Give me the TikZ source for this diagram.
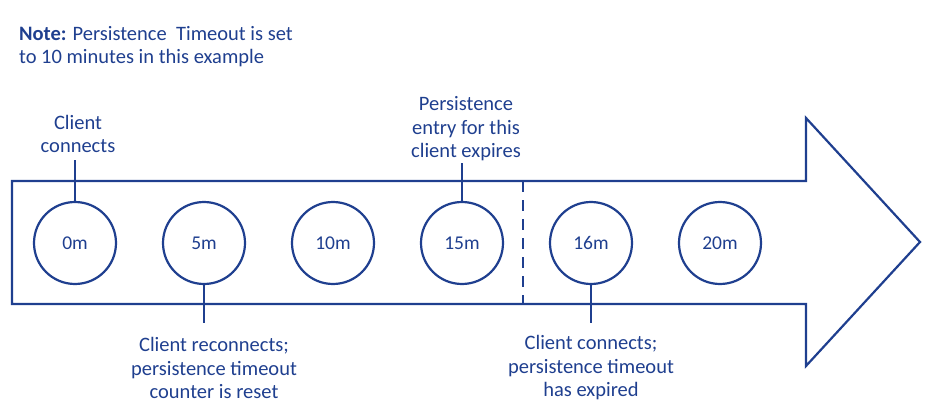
\documentclass[tikz,border=0pt]{standalone}
\usepackage{fontspec}
\setmainfont{Carlito}
\definecolor{db}{HTML}{1F3F8F}
\begin{document}
\begin{tikzpicture}[x=1pt,y=-1pt,line width=2.2pt,
  tick/.style={circle,draw=db,minimum size=82pt,inner sep=0pt,font=\fontsize{19.5}{22}\selectfont,text=db},
  lab/.style={align=center,text=db,font=\fontsize{20.5}{23.5}\selectfont,inner sep=0pt}]
\useasboundingbox (0,0) rectangle (934,409);
\draw[db,line join=miter] (12,181) -- (806,181) -- (806,118) -- (920,242) -- (806,366) -- (806,304) -- (12,304) -- cycle;
\draw[db,dashed,dash pattern=on 11pt off 8pt] (523,181) -- (523,304);
\foreach \n/\x/\t in {a/75/0m,b/204/5m,c/333/10m,d/462/15m,e/591/16m,f/720/20m}
  \node[tick] (\n) at (\x,243) {\t};
\node[lab] (la) at (78,134) {Client\\connects};
\node[lab] (ld) at (466,129) {Persistence\\entry for this\\client expires};
\node[lab] (lb) at (214,368) {Client reconnects;\\persistence timeout\\counter is reset};
\node[lab] (le) at (591,368) {Client connects;\\persistence timeout\\has expired};
\node[lab,align=left,anchor=north west] (note) at (18,25) {\textbf{Note:} Persistence\ \ Timeout is set\\to 10 minutes in this example};
\coordinate (ta) at (75,160); \coordinate (td) at (462,163);
\coordinate (tb) at (204,323); \coordinate (te) at (591,323);
\draw[db] (a.north) -- (ta);
\draw[db] (d.north) -- (td);
\draw[db] (b.south) -- (tb);
\draw[db] (e.south) -- (te);
\end{tikzpicture}
\end{document}
